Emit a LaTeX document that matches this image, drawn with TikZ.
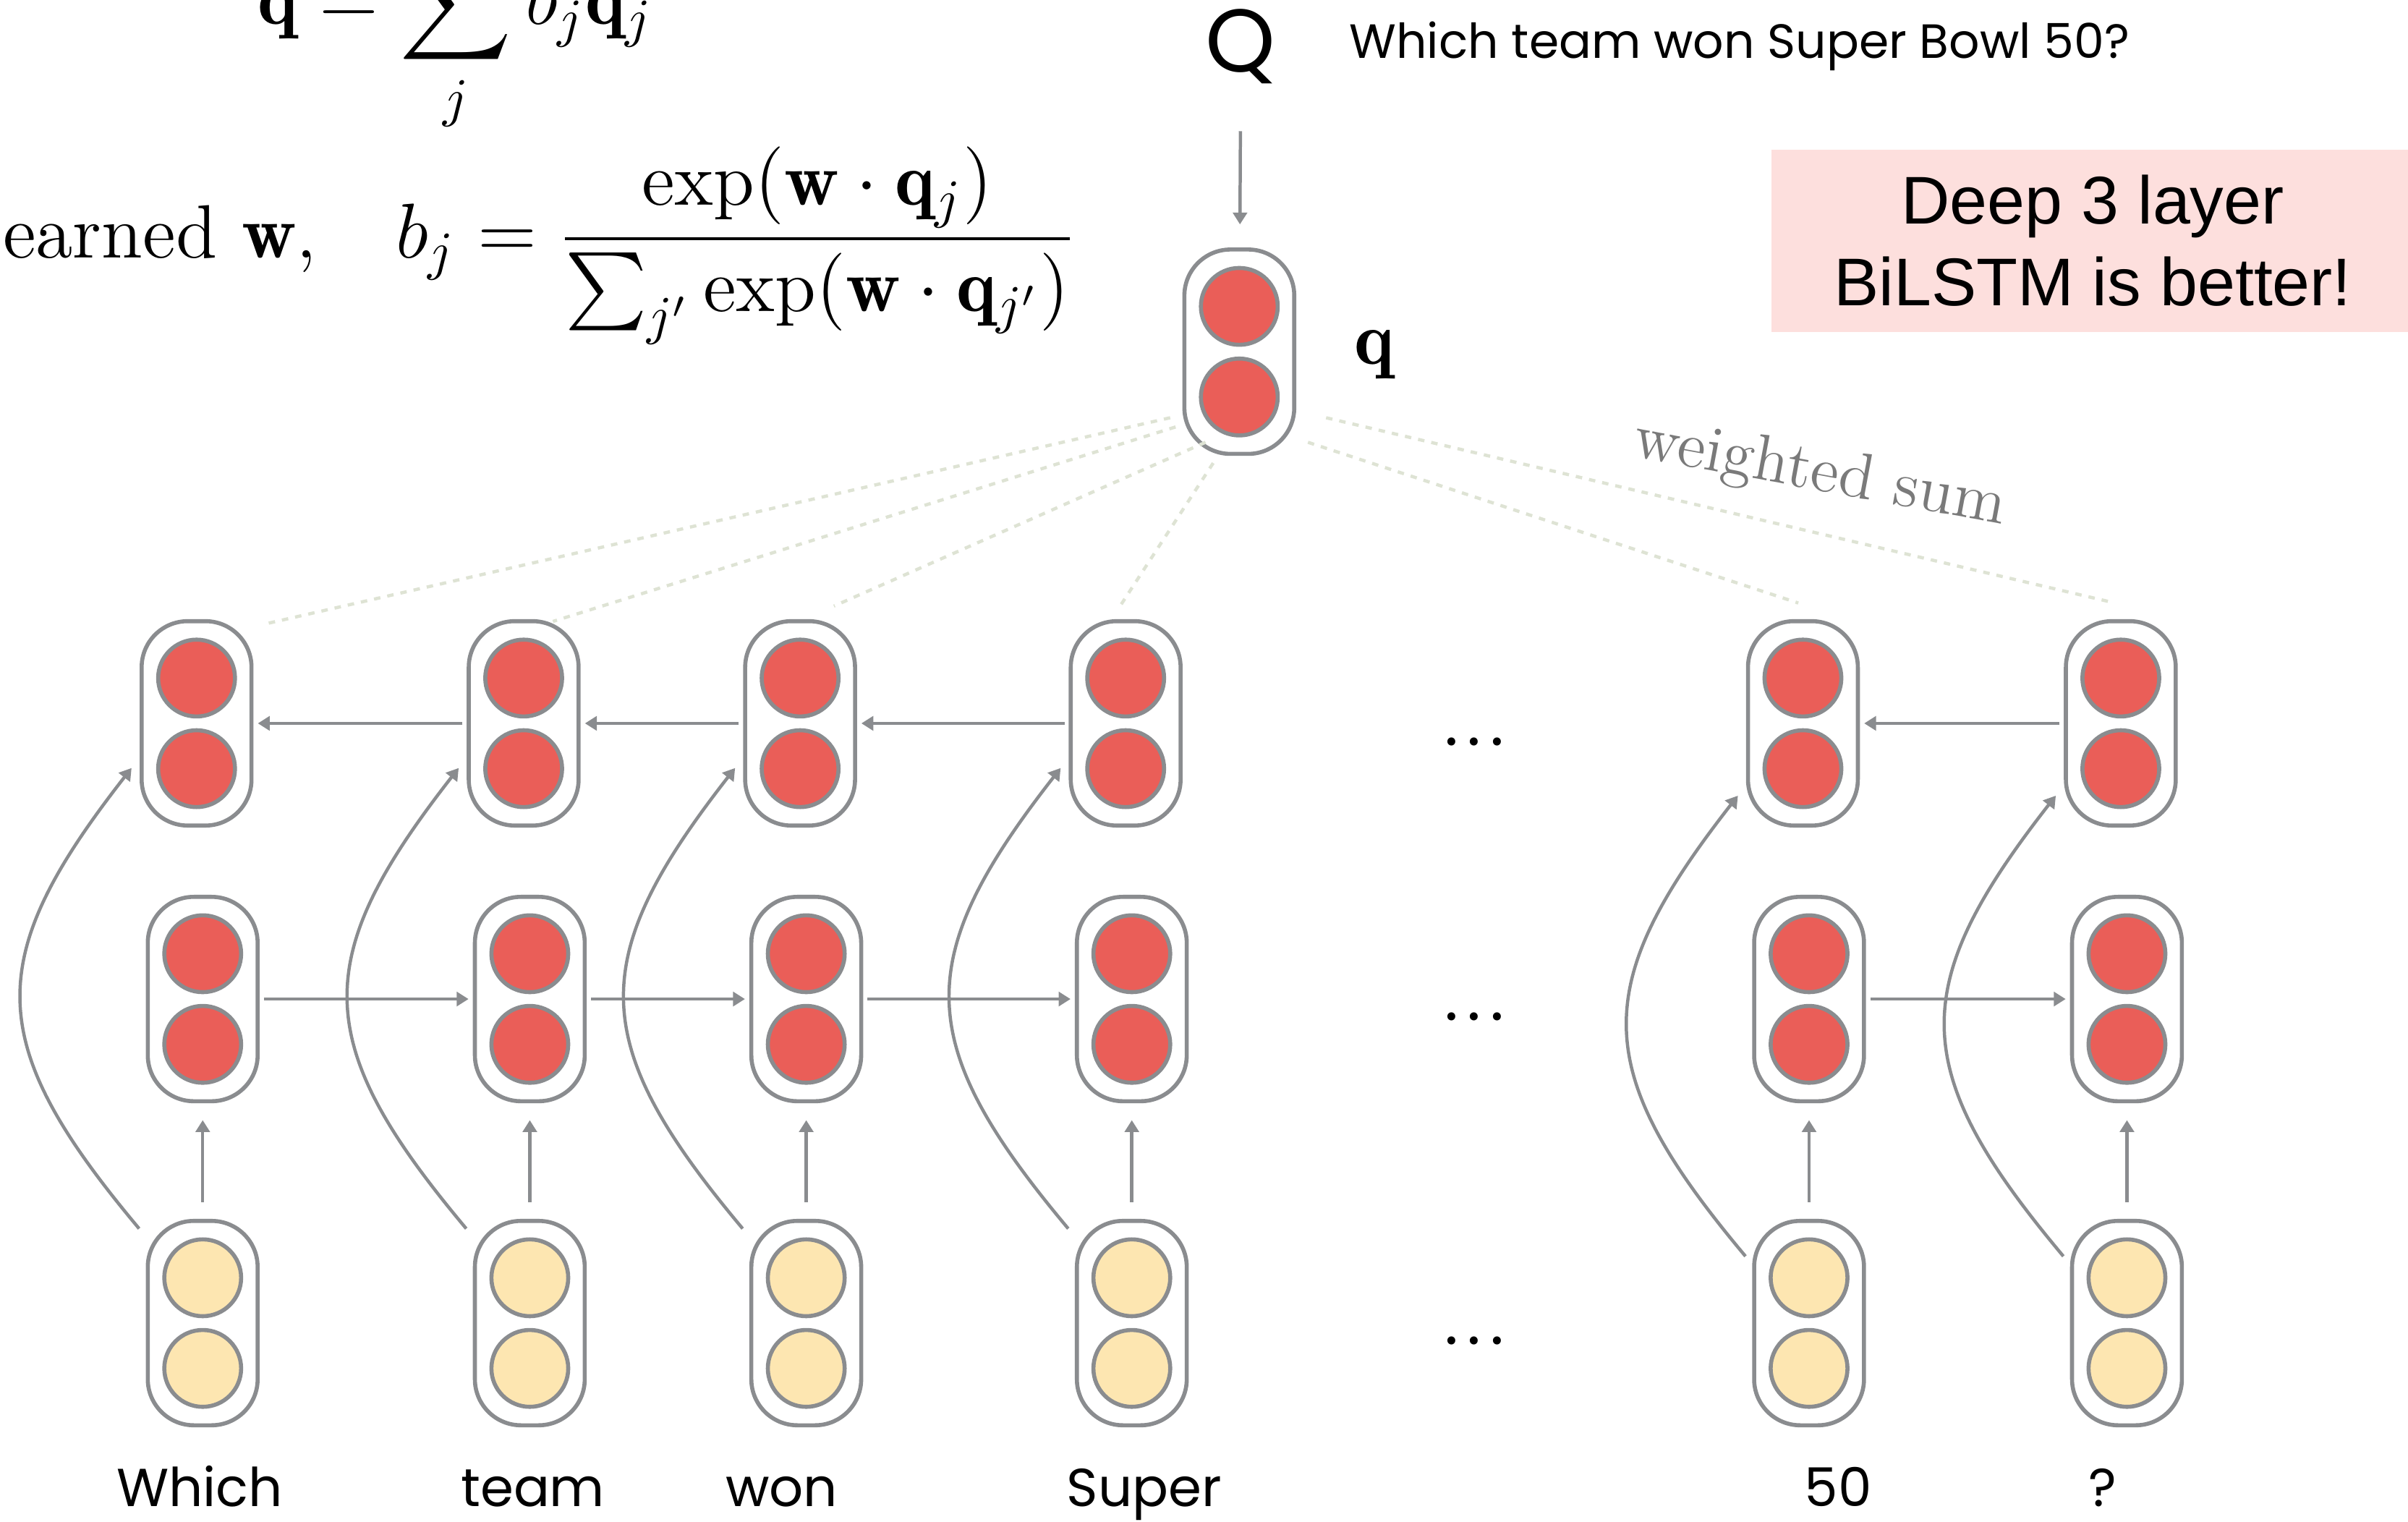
\documentclass[tikz,border=0pt]{standalone}
\usepackage{fontspec}
\usepackage{amsmath}
\usetikzlibrary{arrows.meta}
\newfontfamily\gothfont{Poppins}
\newfontfamily\arialfont{Liberation Sans}

\definecolor{cellgray}{RGB}{138,140,143}
\definecolor{cellred}{RGB}{234,94,88}
\definecolor{cellyellow}{RGB}{253,230,177}
\definecolor{notepink}{RGB}{253,223,221}
\definecolor{sumgreen}{RGB}{222,227,212}
\definecolor{sumgray}{RGB}{122,122,122}

\tikzset{
	capsule/.style={draw=cellgray, line width=0.75pt, rounded corners=0.3cm, minimum width=0.715cm, minimum height=1.33cm, inner sep=0},
	unit/.style={circle, draw=cellgray, line width=0.75pt, minimum size=0.5cm, inner sep=0},
	link/.style={draw=cellgray, line width=0.6pt, -{Triangle[length=2.2pt,width=2.6pt]}, shorten <=0.8pt, shorten >=0.8pt},
	attn/.style={draw=sumgreen, line width=0.6pt, dash pattern=on 1.2pt off 1.3pt},
	word/.style={font=\gothfont\fontsize{9.9}{12}\selectfont, anchor=base, inner sep=0},
	formula/.style={font=\fontsize{14}{17}\selectfont, inner sep=0}
}

\begin{document}
\begin{tikzpicture}[x=0.01cm,y=0.01cm]
			\useasboundingbox (0,0) rectangle (1568,-991);
			\clip (0,0) rectangle (1568,-991);
			% Formulas:
			\node[formula, anchor=base west] (qsum) at (167,-16) {$\displaystyle\mathbf{q} = \sum_j b_j\mathbf{q}_j$};
			\node[formula, anchor=base east] (learned) at (207,-168) {Learned $\mathbf{w}$,};
			\node[formula, anchor=base west] (bj) at (257,-168) {$b_j = \dfrac{\exp(\mathbf{w}\cdot\mathbf{q}_j)}{\sum_{j'}\exp(\mathbf{w}\cdot\mathbf{q}_{j'})}$};
			% Question and note:
			\node[font=\gothfont\fontsize{16.5}{18}\selectfont, anchor=base, inner sep=0] (Q) at (808,-47) {Q};
			\node[font=\gothfont\fontsize{8.9}{11}\selectfont, anchor=base west, inner sep=0] (qtext) at (878,-38) {Which team won Super Bowl 50?};
			\node[fill=notepink, minimum width=4.18cm, minimum height=1.186cm, align=center, font=\arialfont\fontsize{12.5}{15.2}\selectfont] (note) at (1362.7,-156.7) {Deep 3 layer\\BiLSTM is better!};
			% Question vector:
			\node[capsule] (qv) at (807,-229) {};
			\node[unit, fill=cellred] (qv-1) at (807,-199.5) {};
			\node[unit, fill=cellred] (qv-2) at (807,-258.5) {};
			\node[formula, anchor=base] (qlabel) at (895,-237) {$\mathbf{q}$};
			\draw[link, shorten <=0.3cm, shorten >=0.15cm] (Q) -- (qv);
			% Layers:
			\foreach \i/\x in {1/132,2/345,3/525,4/737,5/1178,6/1385} {
				\node[capsule] (t\i) at (\x-4,-471) {};
				\node[unit, fill=cellred] (t\i-1) at (\x-4,-441.5) {};
				\node[unit, fill=cellred] (t\i-2) at (\x-4,-500.5) {};
				\node[capsule] (m\i) at (\x,-650.5) {};
				\node[unit, fill=cellred] (m\i-1) at (\x,-621) {};
				\node[unit, fill=cellred] (m\i-2) at (\x,-680) {};
				\node[capsule] (e\i) at (\x,-861.5) {};
				\node[unit, fill=cellyellow] (e\i-1) at (\x,-832) {};
				\node[unit, fill=cellyellow] (e\i-2) at (\x,-891) {};
			}
			\foreach \i/\j in {2/1,3/2,4/3,6/5}
				\draw[link] (t\i) -- (t\j);
			\foreach \i/\j in {1/2,2/3,3/4,5/6}
				\draw[link] (m\i) -- (m\j);
			\foreach \i in {1,...,6}
				\draw[link, shorten <=0.11cm, shorten >=0.11cm] (e\i) -- (m\i);
			\foreach \i/\d in {1/0,2/0,3/0,4/0,5/18,6/18}
				\draw[link] ([shift={(-2.5,-8.5-\d)}]e\i.north west) to[out=130,in=-128,looseness=1.35] ([shift={(-3.5,41-\d)}]t\i.south west);
			% Weighted sum:
			\foreach \i/\a/\b in {1/{-45,-43}/{43,-3.5},2/{-41.5,-49}/{19,-1.5},3/{-22,-59}/{22,8.5},4/{-17,-72.5}/{-3,9.5},5/{44.7,-59}/{-3,10.5},6/{56.5,-43}/{-8,11.5}}
				\draw[attn] ([shift={(\a)}]qv.center) -- ([shift={(\b)}]t\i.north);
			\node[rotate=-10.5, text=sumgray, font=\fontsize{12}{14}\selectfont] (wsum) at (1185,-309) {weighted sum};
			% Dots and words:
			\foreach \n/\y in {1/483,2/662,3/873}
				\node[font=\gothfont\fontsize{12}{14}\selectfont, inner sep=0] (dots\n) at (960,-\y) {.\kern0.14em.\kern0.14em.};
			\foreach \n/\x/\w in {1/130/Which,2/347/team,3/509/won,4/745/Super,5/1197/50,6/1369/?}
				\node[word] (w\n) at (\x,-981) {\w};
		\end{tikzpicture}
\end{document}
